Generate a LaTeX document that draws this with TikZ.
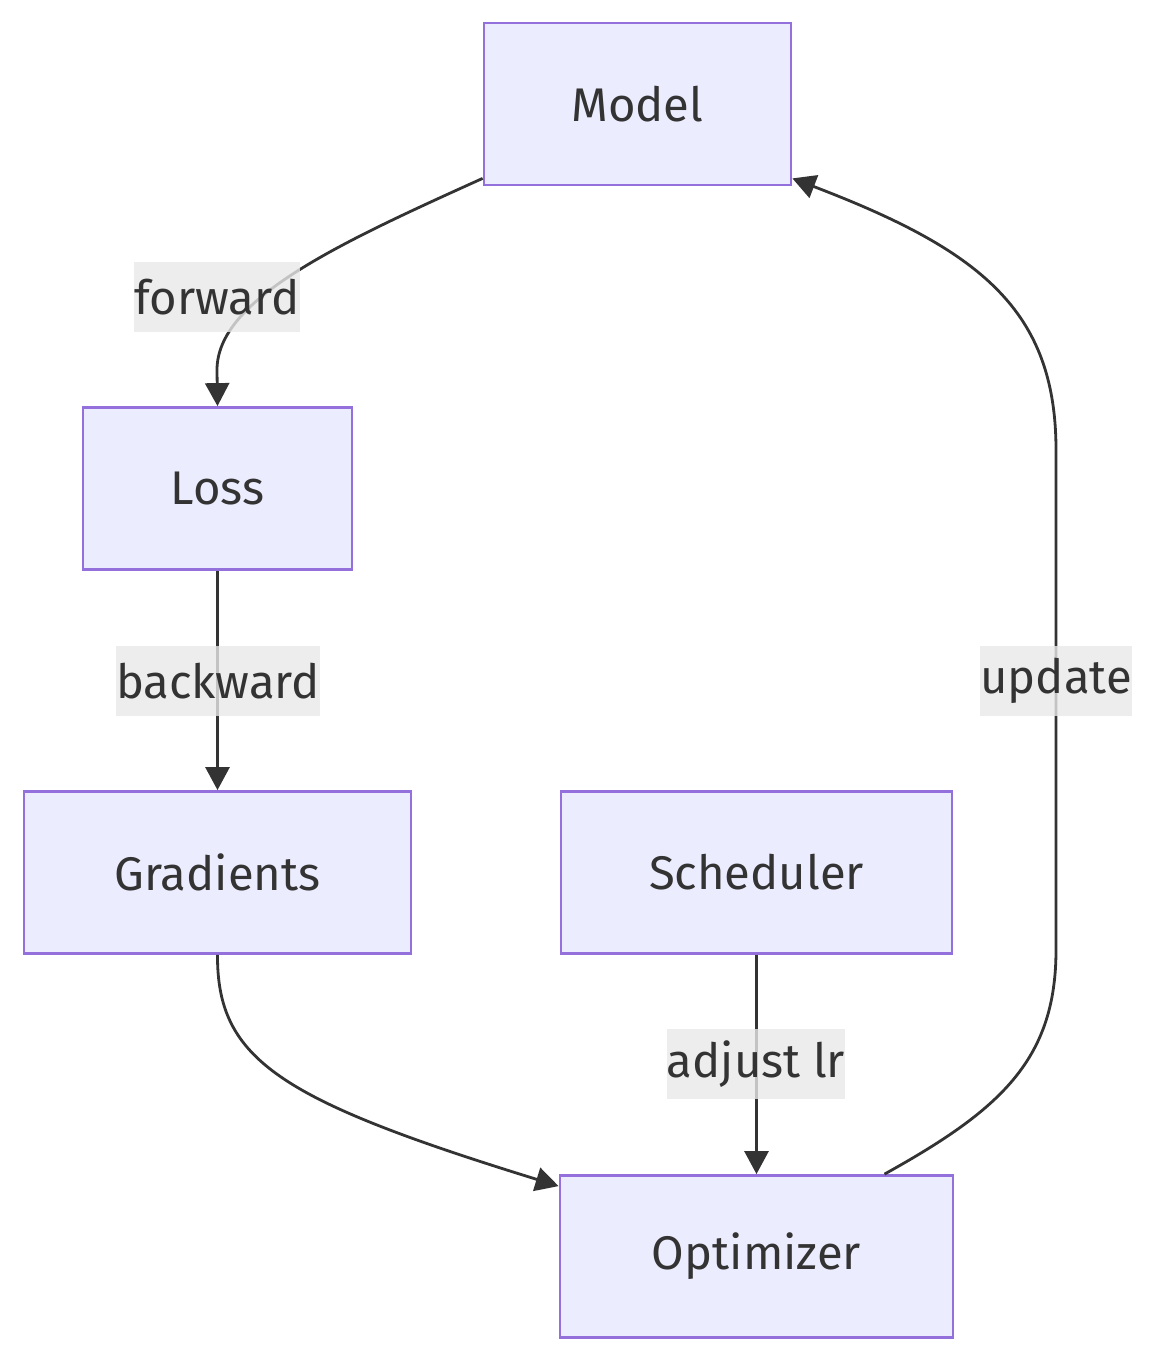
\documentclass[tikz,border=0pt]{standalone}
\usepackage{fontspec}
\setmainfont{Fira Sans}
\usepackage{tikz}
\usetikzlibrary{
  arrows.meta,
  positioning
}
\definecolor{nodefill}{RGB}{236, 236, 255}
\definecolor{nodeline}{RGB}{147, 112, 219}
\definecolor{inkgray}{RGB}{51, 51, 51}
\definecolor{lblfill}{RGB}{232, 232, 232}

\begin{document}
\begin{tikzpicture}[
    x=0.5pt, y=-0.5pt,
    stage/.style={
        draw=nodeline, fill=nodefill, line width=1.4pt,
        minimum height=81pt, inner sep=0pt,
        font=\fontsize{23.6}{28}\selectfont, text=inkgray
    },
    lbl/.style={
        fill=lblfill, fill opacity=0.8, text opacity=1,
        minimum height=35pt, inner xsep=0pt, inner ysep=0pt,
        font=\fontsize{23.6}{28}\selectfont, text=inkgray
    },
    flow/.style={
        draw=inkgray, line width=1.4pt,
        -{Triangle[length=11.5pt, width=12pt]}
    }
]
\useasboundingbox (0,0) rectangle (1156,1361);
\def\xL{217.5}  \def\xM{637.5}  \def\xR{756.5}
\def\rA{104}    \def\rB{488.5}  \def\rC{872.5}  \def\rD{1256.5}

% boxes
\node[stage, minimum width=153.5pt] (model)     at (\xM,\rA) {Model};
\node[stage, minimum width=134.5pt] (loss)      at (\xL,\rB) {Loss};
\node[stage, minimum width=193.5pt] (grads)     at (\xL,\rC) {Gradients};
\node[stage, minimum width=195.5pt] (scheduler) at (\xR,\rC) {Scheduler};
\node[stage, minimum width=196.5pt] (optimizer) at (\xR,\rD) {Optimizer};

% connectors
\draw[flow] ([yshift=4pt]model.south west)
    .. controls (335,245) and (217,300) .. (217,370) -- (loss.north);
\draw[flow] (loss.south) -- (grads.north);
\draw[flow] (grads.south)
    .. controls (217,1060) and (280,1100) .. ([yshift=-6pt]optimizer.north west);
\draw[flow] (scheduler.south) -- (optimizer.north);
\draw[flow] ([xshift=64pt]optimizer.north)
    .. controls (1000,1110) and (1056,1060) .. (1056,950) -- (1056,450)
    .. controls (1056,310) and (980,250) .. ([yshift=4pt]model.south east);

% edge labels
\node[lbl] (lforward)  at (217,297)  {forward};
\node[lbl] (lbackward) at (218,681)  {backward};
\node[lbl] (lupdate)   at (1056,681) {update};
\node[lbl] (ladjust)   at (756,1064) {adjust lr};

\end{tikzpicture}
\end{document}
